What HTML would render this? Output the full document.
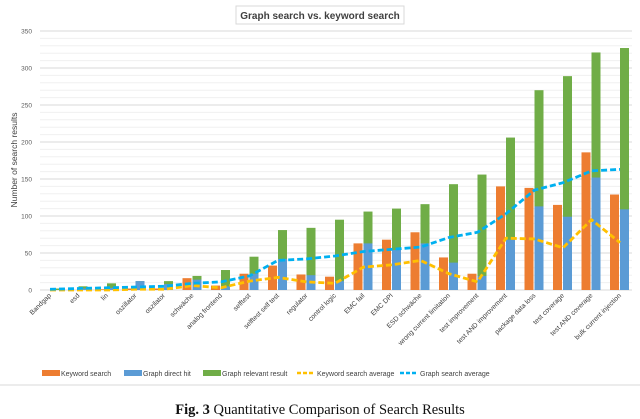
<!DOCTYPE html>
<html><head><meta charset="utf-8"><style>
body{margin:0;background:#fff;width:640px;height:419px;overflow:hidden}
svg{display:block}
</style></head><body>
<svg id="chart" width="640" height="419" viewBox="0 0 640 419" xmlns="http://www.w3.org/2000/svg" font-family="Liberation Sans, sans-serif">
<rect x="0" y="0" width="640" height="419" fill="#fff"/>
<g>
<rect x="236" y="6" width="168" height="18" fill="#fff" stroke="#d9d9d9"/>
<text x="320" y="19" text-anchor="middle" font-size="10" font-weight="bold" fill="#404040">Graph search vs. keyword search</text>
</g>
<g id="grid"></g>
<g id="yticks"></g>
<text transform="translate(17,160) rotate(-90)" text-anchor="middle" font-size="8.5" fill="#404040">Number of search results</text>
<g id="bars"></g>
<g id="lines"></g>
<g id="xlabels"></g>
<g font-size="7" fill="#404040">
<g><rect x="42" y="370" width="18" height="6" fill="#ed7d31"/><text x="61" y="376">Keyword search</text></g>
<g><rect x="124" y="370" width="18" height="6" fill="#5b9bd5"/><text x="143" y="376">Graph direct hit</text></g>
<g><rect x="203" y="370" width="18" height="6" fill="#70ad47"/><text x="222" y="376">Graph relevant result</text></g>
<g><line x1="297" y1="373" x2="315" y2="373" stroke="#ffc000" stroke-width="2.5" stroke-dasharray="4,2"/><text x="317" y="376">Keyword search average</text></g>
<g><line x1="400" y1="373" x2="418" y2="373" stroke="#00b0f0" stroke-width="2.5" stroke-dasharray="4,2"/><text x="420" y="376">Graph search average</text></g>
</g>
<line x1="0" y1="385" x2="640" y2="385" stroke="#d9d9d9"/>
<text x="320" y="414" text-anchor="middle" font-family="Liberation Serif, serif" font-size="14.5" fill="#111"><tspan font-weight="bold">Fig. 3</tspan>  Quantitative Comparison of Search Results</text>
</svg>
<script>
const categories=["Bandgap","esd","lin","oszillator","oszilator","schwäche","analog frontend","selftest","selftest self test","regulator","control logic","EMC fail","EMC DPI","ESD schwäche","wrong current limitation","test improvement","test AND improvement","package data loss","test coverage","test AND coverage","bulk current injection"];
const keywordSearch=[0,0,1,2,2,16,6,22,33,21,18,63,68,78,44,22,140,138,115,186,129];
const graphDirectHit=[0,2,3,12,8,14,5,22,42,20,12,63,54,63,37,19,68,113,99,152,109];
const graphRelevant=[2,5,9,12,12,19,27,45,81,84,95,106,110,116,143,156,206,270,289,321,327];
const keywordAvg=[0,0,0,1,1,6,3,12,17,11,9,31,34,40,22,11,70,69,57,95,64];
const graphAvg=[1,2,3,4,5,9,11,19,40,42,46,52,55,58,71,78,103,135,145,161,163];
const yTicks=[0,50,100,150,200,250,300,350];
const NS="http://www.w3.org/2000/svg";
const y0=290,yTop=31,yMax=350,xL=40,xR=632,x0=49.5,step=28.5,bw=9;
const yScale=v=>y0-(v/yMax)*(y0-yTop);
const xScale=i=>x0+i*step;
function mk(tag,attrs,parent){const e=document.createElementNS(NS,tag);for(const k in attrs)e.setAttribute(k,attrs[k]);parent.appendChild(e);return e;}
const grid=document.getElementById('grid'),yt=document.getElementById('yticks');
for(let v=0;v<=350;v+=10){const l=mk('line',{x1:xL,x2:xR,y1:yScale(v),y2:yScale(v),stroke:v%50===0?'#d9d9d9':'#f0f0f0','stroke-width':1},grid);

}
yTicks.forEach(v=>{const t=mk('text',{x:32,y:yScale(v)+2.5,'text-anchor':'end','font-size':6.5,fill:'#595959'},yt);t.textContent=v;

});
const bars=document.getElementById('bars');
categories.forEach((c,i)=>{const cx=xScale(i);
let r=mk('rect',{x:cx-bw-0.5,y:yScale(keywordSearch[i]),width:bw,height:y0-yScale(keywordSearch[i]),fill:'#ed7d31'},bars);


r=mk('rect',{x:cx+0.5,y:yScale(graphRelevant[i]),width:bw,height:y0-yScale(graphRelevant[i]),fill:'#70ad47'},bars);


r=mk('rect',{x:cx+0.5,y:yScale(graphDirectHit[i]),width:bw,height:y0-yScale(graphDirectHit[i]),fill:'#5b9bd5'},bars);


});
const lines=document.getElementById('lines');
function line(data,color,name){const pts=data.map((v,i)=>(xScale(i)+0.5)+','+yScale(v)).join(' ');
const p=mk('polyline',{points:pts,fill:'none',stroke:color,'stroke-width':2.8,'stroke-dasharray':'6,3','stroke-linejoin':'round'},lines);

}
line(keywordAvg,'#ffc000','keyword-average-line');
line(graphAvg,'#00b0f0','graph-average-line');
const xl=document.getElementById('xlabels');
categories.forEach((c,i)=>{const x=xScale(i)+2,y=y0+6;
const t=mk('text',{x:x,y:y,'text-anchor':'end','font-size':6.8,fill:'#404040',transform:`rotate(-45 ${x} ${y})`},xl);t.textContent=c;

});
</script>
</body></html>
